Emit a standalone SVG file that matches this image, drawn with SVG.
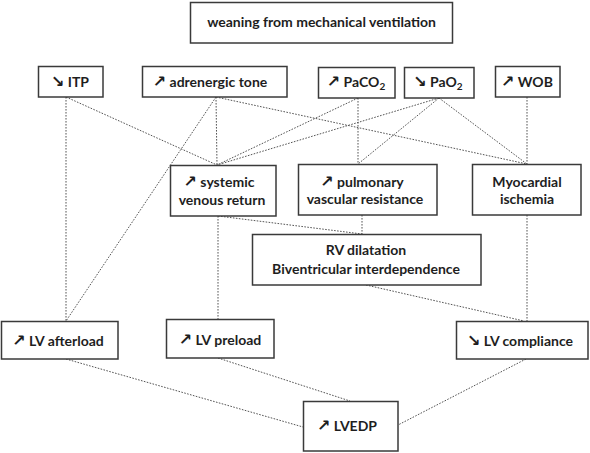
<svg xmlns="http://www.w3.org/2000/svg" width="590" height="453" viewBox="0 0 590 453">
<style>
.box{fill:#fff;stroke:#3a3a3a;stroke-width:1.5}
.t{font-family:Lato,"Liberation Sans","DejaVu Sans",sans-serif;font-weight:bold;font-size:14px;fill:#1e1e1e;text-anchor:middle}
.a{font-family:"DejaVu Sans",sans-serif;font-weight:bold;font-size:16px}
.c line{stroke:#555;stroke-width:1;stroke-dasharray:1.6,1.4;fill:none}
</style>
<rect width="590" height="453" fill="#fff"/>
<g class="c" id="connectors">
<line x1="66" y1="97" x2="66" y2="321"/>
<line x1="66" y1="97" x2="217" y2="165"/>
<line x1="216" y1="97" x2="217" y2="165"/>
<line x1="216" y1="97" x2="66" y2="321"/>
<line x1="216" y1="97" x2="527" y2="164"/>
<line x1="358" y1="98" x2="217" y2="165"/>
<line x1="358" y1="98" x2="358" y2="164"/>
<line x1="439" y1="98" x2="217" y2="165"/>
<line x1="439" y1="98" x2="358" y2="164"/>
<line x1="439" y1="98" x2="527" y2="164"/>
<line x1="527" y1="97" x2="527" y2="164"/>
<line x1="218" y1="216" x2="218" y2="319"/>
<line x1="218" y1="216" x2="362" y2="234"/>
<line x1="362" y1="215" x2="362" y2="234"/>
<line x1="366" y1="285" x2="524" y2="321"/>
<line x1="527" y1="215" x2="527" y2="321"/>
<line x1="66" y1="359" x2="303" y2="427"/>
<line x1="218" y1="358" x2="350" y2="401"/>
<line x1="526" y1="359" x2="398" y2="425"/>
</g>
<g id="weaning"><rect class="box" x="190.5" y="2.5" width="262" height="40.5"/><text class="t" x="321.5" y="27">weaning from mechanical ventilation</text></g>
<g id="itp"><rect class="box" x="38.5" y="66.5" width="64.5" height="30.5"/><text class="t" x="70" y="87"><tspan class="a">↘</tspan> ITP</text></g>
<g id="adrenergic"><rect class="box" x="142.5" y="66.5" width="144.5" height="30.5"/><text class="t" x="210" y="87"><tspan class="a">↗</tspan> adrenergic tone</text></g>
<g id="paco2"><rect class="box" x="318.5" y="67.5" width="76.5" height="30.5"/><text class="t" x="356" y="87"><tspan class="a">↗</tspan> PaCO<tspan font-size="10" dy="3">2</tspan></text></g>
<g id="pao2"><rect class="box" x="404.5" y="67.5" width="69.5" height="30.5"/><text class="t" x="438" y="87"><tspan class="a">↘</tspan> PaO<tspan font-size="10" dy="3">2</tspan></text></g>
<g id="wob"><rect class="box" x="495.5" y="66.5" width="64.5" height="30.5"/><text class="t" x="527" y="87"><tspan class="a">↗</tspan> WOB</text></g>
<g id="svr"><rect class="box" x="170.5" y="165.5" width="105.5" height="50.5"/><text class="t" x="219" y="187"><tspan class="a">↗</tspan> systemic</text><text class="t" x="222" y="204.5">venous return</text></g>
<g id="pvr"><rect class="box" x="298.5" y="164.5" width="138.5" height="50.5"/><text class="t" x="362" y="186.5"><tspan class="a">↗</tspan> pulmonary</text><text class="t" x="365" y="204">vascular resistance</text></g>
<g id="ischemia"><rect class="box" x="472.5" y="164.5" width="108.5" height="50.5"/><text class="t" x="527" y="186.5">Myocardial</text><text class="t" x="527" y="204">ischemia</text></g>
<g id="rv"><rect class="box" x="252.5" y="234.5" width="228.5" height="50.5"/><text class="t" x="366" y="254.5">RV dilatation</text><text class="t" x="366" y="273.5">Biventricular interdependence</text></g>
<g id="afterload"><rect class="box" x="1.5" y="321.5" width="116.5" height="37.5"/><text class="t" x="58" y="345.5"><tspan class="a">↗</tspan> LV afterload</text></g>
<g id="preload"><rect class="box" x="166.5" y="319.5" width="107.5" height="38.5"/><text class="t" x="220" y="345"><tspan class="a">↗</tspan> LV preload</text></g>
<g id="compliance"><rect class="box" x="456.5" y="321.5" width="131.5" height="37.5"/><text class="t" x="520" y="345.5"><tspan class="a">↘</tspan> LV compliance</text></g>
<g id="lvedp"><rect class="box" x="303.5" y="401.5" width="94.5" height="49.5"/><text class="t" x="347" y="431"><tspan class="a">↗</tspan> LVEDP</text></g>
</svg>
